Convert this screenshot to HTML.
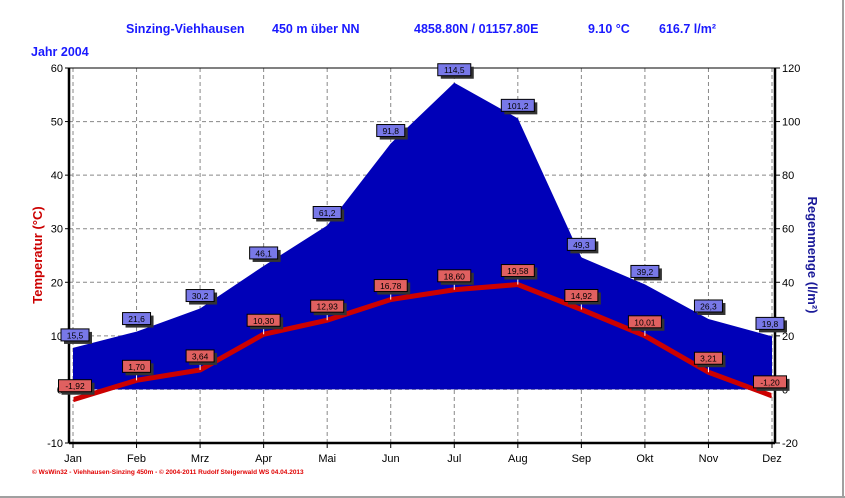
<!DOCTYPE html>
<html><head><meta charset="utf-8"><style>
body{margin:0;background:#fff;width:845px;height:498px;overflow:hidden;font-family:"Liberation Sans",sans-serif}
svg{display:block}
</style></head><body>
<svg id="c" width="845" height="498" xmlns="http://www.w3.org/2000/svg">
<line x1="843" y1="0" x2="843" y2="498" stroke="#a0a0a0" stroke-width="2"/>
<line x1="0" y1="497" x2="845" y2="497" stroke="#a0a0a0" stroke-width="2"/>
<g font-weight="bold" font-size="12.5" fill="#1a1aff">
<text x="126" y="33">Sinzing-Viehhausen</text>
<text x="272" y="33">450 m über NN</text>
<text x="414" y="33">4858.80N / 01157.80E</text>
<text x="588" y="33">9.10 °C</text>
<text x="659" y="33">616.7 l/m²</text>
<text x="31" y="56">Jahr  2004</text>
</g>
<text x="32" y="474" font-size="6.5" fill="#e00000" font-weight="bold">© WsWin32  -  Viehhausen-Sinzing 450m  -  © 2004-2011 Rudolf Steigerwald WS   04.04.2013</text>
<text transform="translate(42,255) rotate(-90)" text-anchor="middle" font-size="13" font-weight="bold" fill="#cc0000">Temperatur  (°C)</text>
<text transform="translate(808,255) rotate(90)" text-anchor="middle" font-size="13" font-weight="bold" fill="#1a1a99">Regenmenge  (l/m²)</text>
<g id="plot"></g>
</svg>
<script>
const months=["Jan","Feb","Mrz","Apr","Mai","Jun","Jul","Aug","Sep","Okt","Nov","Dez"];
const temps=[-1.92,1.70,3.64,10.30,12.93,16.78,18.60,19.58,14.92,10.01,3.21,-1.20];
const rain=[15.5,21.6,30.2,46.1,61.2,91.8,114.5,101.2,49.3,39.2,26.3,19.8];
const tempTicks=[-10,0,10,20,30,40,50,60];
const rainTicks=[-20,0,20,40,60,80,100,120];
const NS="http://www.w3.org/2000/svg";
const L=69,R=775,T=68,B=443;
const X0=73,X1=772;
const x=i=>X0+i*(X1-X0)/(months.length-1);
const yT=v=>B-(v+10)*(B-T)/70;
const yR=v=>B-(v+20)*(B-T)/140;
const g=document.getElementById('plot');
function mk(tag,a,p){const e=document.createElementNS(NS,tag);for(const k in a)e.setAttribute(k,a[k]);(p||g).appendChild(e);return e;}
tempTicks.forEach(t=>{if(t>-10&&t<60){const e=mk('line',{x1:L,x2:R,y1:yT(t),y2:yT(t),stroke:'#888','stroke-dasharray':'4,3'});

}});
months.forEach((m,i)=>{const e=mk('line',{x1:x(i),x2:x(i),y1:T,y2:B,stroke:'#888','stroke-dasharray':'4,3'});

});
let d=`M${x(0)},${yR(0)}`;rain.forEach((v,i)=>d+=` L${x(i)},${yR(v)}`);d+=` L${x(11)},${yR(0)} Z`;
const area=mk('path',{d:d,fill:'#0000b8'});


const tl=mk('polyline',{points:temps.map((v,i)=>x(i)+','+yT(v)).join(' '),fill:'none',stroke:'#cc0000','stroke-width':5});


const ax=mk('path',{d:`M${L},${T} L${L},${B} L${R},${B} L${R},${T} L${L},${T}`,fill:'none',stroke:'#000','stroke-width':1});


mk('line',{x1:L,x2:L,y1:T,y2:B,stroke:'#000','stroke-width':2.5});
mk('line',{x1:R,x2:R,y1:T,y2:B,stroke:'#000','stroke-width':2.5});
mk('line',{x1:L,x2:R,y1:B,y2:B,stroke:'#000','stroke-width':2.5});
tempTicks.forEach(t=>{const y=yT(t);mk('line',{x1:L-4,x2:L,y1:y,y2:y,stroke:'#000'});
const e=mk('text',{x:L-6,y:y+4,'text-anchor':'end','font-size':11,fill:'#000'});e.textContent=t;

});
rainTicks.forEach(t=>{const y=yR(t);mk('line',{x1:R,x2:R+5,y1:y,y2:y,stroke:'#000'});
const e=mk('text',{x:R+7,y:y+4,'font-size':11,fill:'#000'});e.textContent=t;

});
months.forEach((m,i)=>{mk('line',{x1:x(i),x2:x(i),y1:B,y2:B+5,stroke:'#000'});
const e=mk('text',{x:x(i),y:B+19,'text-anchor':'middle','font-size':11,fill:'#000'});e.textContent=m;

});
function label(cx,cy,txt,col,name){
 const w=txt.length*5+8;
 mk('rect',{x:cx-w/2+3,y:cy-13+3,width:w,height:12,fill:'#333'});
 const r=mk('rect',{x:cx-w/2,y:cy-13,width:w,height:12,fill:col,stroke:'#000','stroke-width':1});
 
 
 const t=mk('text',{x:cx,y:cy-3.5,'text-anchor':'middle','font-size':8.5,fill:'#000'});t.textContent=txt;
 
 
}
rain.forEach((v,i)=>{const cx=i==0?x(i)+2:(i==11?x(i)-2:x(i));label(cx,yR(v)-6,v.toFixed(1).replace('.',','),'#7878e8','rain-value-label');});
temps.forEach((v,i)=>{const cx=i==0?x(i)+2:(i==11?x(i)-2:x(i));
 mk('line',{x1:x(i),x2:x(i),y1:yT(v)-8,y2:yT(v),stroke:'#fff'});
 label(cx,yT(v)-7,v.toFixed(2).replace('.',','),'#e06060','temp-value-label');});
</script>
</body></html>
